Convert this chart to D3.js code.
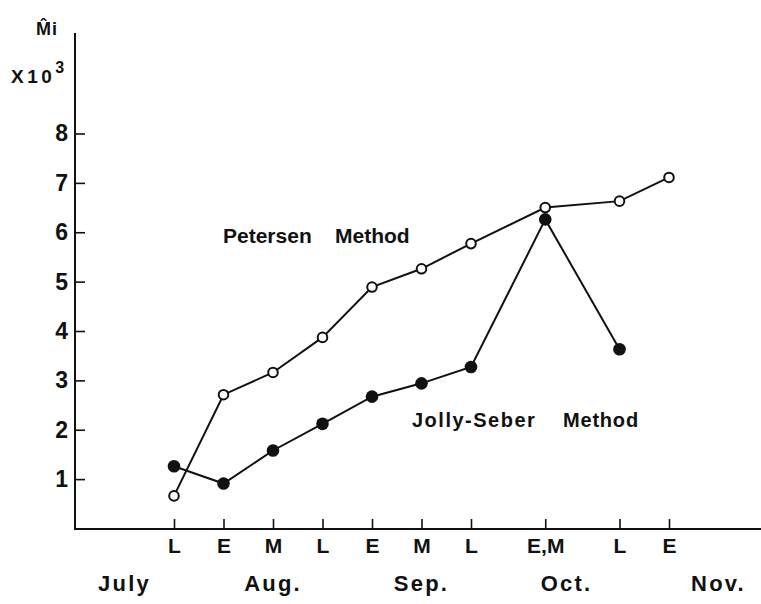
<!DOCTYPE html>
<html>
<head>
<meta charset="utf-8">
<script src="https://cdn.jsdelivr.net/npm/d3@7"></script>
<style>
  html, body { margin: 0; padding: 0; background: #fff; }
  svg { display: block; }
  text { font-family: "Liberation Sans", Arial, sans-serif; font-weight: bold; fill: #111; }
</style>
</head>
<body>
<svg id="chart" width="761" height="604"></svg>
<script>
// Period positions along the season (one unit = one third of a month)
const periodPos = [0, 1, 2, 3, 4, 5, 6, 7.5, 9, 10];
const periodLabels = ["L", "E", "M", "L", "E", "M", "L", "E,M", "L", "E"];
const monthPos = [-1, 2, 5, 7.93, 11];
const monthLabels = ["July", "Aug.", "Sep.", "Oct.", "Nov."];
const yTicks = [1, 2, 3, 4, 5, 6, 7, 8];

// Population estimates (thousands)
const petersen = [0.66, 2.71, 3.16, 3.87, 4.89, 5.26, 5.77, 6.50, 6.63, 7.11];
const jollySeber = [1.26, 0.91, 1.58, 2.12, 2.67, 2.94, 3.27, 6.26, 3.63];

const svg = d3.select("#chart");
const ink = "#111";
const fontFamily = "Liberation Sans, Arial, sans-serif";

const x = d3.scaleLinear().domain([0, 10]).range([174, 669]);
const y = d3.scaleLinear().domain([0, 8]).range([528.5, 133.5]);
const axisX0 = 75, axisY0 = 529;

// x axis: ticks pointing up, period letters below
const gx = svg.append("g").attr("transform", `translate(0,${axisY0})`);
gx.call(d3.axisBottom(x)
    .tickValues(periodPos)
    .tickSize(-10)
    .tickPadding(9)
    .tickFormat((d, i) => periodLabels[i]));
gx.select(".domain").remove();
gx.append("line").attr("x1", axisX0).attr("x2", 761).attr("stroke", ink).attr("stroke-width", 2);
gx.selectAll(".tick line").attr("stroke", ink).attr("stroke-width", 1.6);
gx.selectAll(".tick text").attr("font-size", 21).attr("fill", ink)
  .style("font-family", fontFamily).style("font-weight", "bold");

// month names
svg.append("g").selectAll("text").data(monthLabels).join("text")
  .attr("x", (d, i) => x(monthPos[i]))
  .attr("y", 591)
  .attr("text-anchor", "middle")
  .attr("font-size", 22)
  .attr("letter-spacing", 2.2)
  .text(d => d);

// y axis: ticks pointing right
const gy = svg.append("g").attr("transform", `translate(${axisX0},0)`);
gy.call(d3.axisLeft(y)
    .tickValues(yTicks)
    .tickSize(-10)
    .tickPadding(7)
    .tickFormat(d3.format("d")));
gy.select(".domain").remove();
gy.append("line").attr("y1", 33).attr("y2", axisY0 + 1).attr("stroke", ink).attr("stroke-width", 2);
gy.selectAll(".tick line").attr("stroke", ink).attr("stroke-width", 1.6);
gy.selectAll(".tick text").attr("font-size", 23).attr("fill", ink)
  .style("font-family", fontFamily).style("font-weight", "bold");

// y axis title: M-hat i, x10^3
svg.append("text").attr("x", 36).attr("y", 35).attr("font-size", 18)
  .attr("letter-spacing", 1).text("M\u0302i");
const unit = svg.append("text").attr("x", 11).attr("y", 83).attr("font-size", 19)
  .attr("letter-spacing", 3.5);
unit.append("tspan").text("X10");
unit.append("tspan").attr("dy", -10).attr("font-size", 16).text("3");

// series lines and markers
const line = d3.line().x((d, i) => x(periodPos[i])).y(d => y(d));

svg.append("path").datum(petersen).attr("d", line)
  .attr("fill", "none").attr("stroke", ink).attr("stroke-width", 2);
svg.append("path").datum(jollySeber).attr("d", line)
  .attr("fill", "none").attr("stroke", ink).attr("stroke-width", 2);

svg.append("g").selectAll("circle").data(jollySeber).join("circle")
  .attr("cx", (d, i) => x(periodPos[i]))
  .attr("cy", d => y(d))
  .attr("r", 6.3)
  .attr("fill", ink);

svg.append("g").selectAll("circle").data(petersen).join("circle")
  .attr("cx", (d, i) => x(periodPos[i]))
  .attr("cy", d => y(d))
  .attr("r", 4.8)
  .attr("fill", "#fff")
  .attr("stroke", ink)
  .attr("stroke-width", 2);

// series labels
svg.append("text").attr("x", 223).attr("y", 243).attr("font-size", 21).text("Petersen");
svg.append("text").attr("x", 335).attr("y", 243).attr("font-size", 21).text("Method");
svg.append("text").attr("x", 412).attr("y", 427).attr("font-size", 20).attr("letter-spacing", 1.5).text("Jolly-Seber");
svg.append("text").attr("x", 563).attr("y", 427).attr("font-size", 20).attr("letter-spacing", 0.8).text("Method");
</script>
</body>
</html>
